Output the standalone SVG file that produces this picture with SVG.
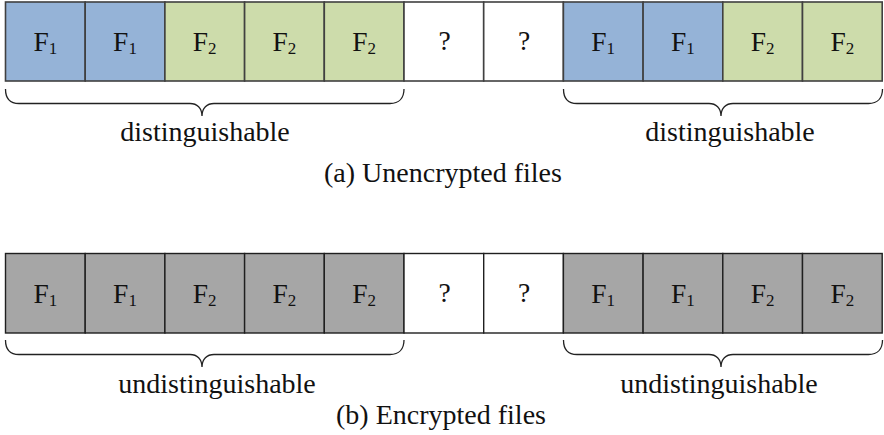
<svg xmlns="http://www.w3.org/2000/svg" width="884" height="435" viewBox="0 0 884 435" font-family="'Liberation Serif', serif">
<style>
text{font-family:'Liberation Serif',serif;fill:#111;}
.lbl{font-size:28px;}
.cell text{font-size:27.5px;text-anchor:middle;}
.sub{font-size:17px;}
.blue{fill:#95B3D7;}
.green{fill:#CDDCAB;}
.white{fill:#FFFFFF;}
.gray{fill:#A6A6A6;}
.r1 rect{stroke:#404040;stroke-width:1.6;}
.r2 rect{stroke:#1f1f1f;stroke-width:1.4;}
.brace{fill:none;stroke:#222;stroke-width:1.3;}
</style>
<defs>
<path id="braceL" d="M5.5,89 C5.5,98 10,103.5 19,103.5 L190,103.5 C197,103.5 202,108 202,116 C202,108 207,103.5 214,103.5 L390,103.5 C399,103.5 404,98 404,89"/>
<path id="braceR" d="M563.5,89 C563.5,98 568,103.5 577,103.5 L709,103.5 C716,103.5 721,108 721,116 C721,108 726,103.5 733,103.5 L868.5,103.5 C877.5,103.5 882.5,98 882.5,89"/>
</defs>
<g id="row-a" class="r1">
<g id="a1" class="cell"><rect class="blue" x="5.5" y="2" width="79.7" height="79"/><text x="45.3" y="50.5">F<tspan class="sub" dy="3">1</tspan></text></g>
<g id="a2" class="cell"><rect class="blue" x="85.2" y="2" width="79.7" height="79"/><text x="125" y="50.5">F<tspan class="sub" dy="3">1</tspan></text></g>
<g id="a3" class="cell"><rect class="green" x="164.9" y="2" width="79.7" height="79"/><text x="204.7" y="50.5">F<tspan class="sub" dy="3">2</tspan></text></g>
<g id="a4" class="cell"><rect class="green" x="244.6" y="2" width="79.7" height="79"/><text x="284.4" y="50.5">F<tspan class="sub" dy="3">2</tspan></text></g>
<g id="a5" class="cell"><rect class="green" x="324.3" y="2" width="79.7" height="79"/><text x="364.1" y="50.5">F<tspan class="sub" dy="3">2</tspan></text></g>
<g id="a6" class="cell"><rect class="white" x="404" y="2" width="79.7" height="79"/><text x="444.5" y="49.5">?</text></g>
<g id="a7" class="cell"><rect class="white" x="483.7" y="2" width="79.7" height="79"/><text x="524.2" y="49.5">?</text></g>
<g id="a8" class="cell"><rect class="blue" x="563.4" y="2" width="79.7" height="79"/><text x="603.2" y="50.5">F<tspan class="sub" dy="3">1</tspan></text></g>
<g id="a9" class="cell"><rect class="blue" x="643.1" y="2" width="79.7" height="79"/><text x="682.9" y="50.5">F<tspan class="sub" dy="3">1</tspan></text></g>
<g id="a10" class="cell"><rect class="green" x="722.8" y="2" width="79.7" height="79"/><text x="762.6" y="50.5">F<tspan class="sub" dy="3">2</tspan></text></g>
<g id="a11" class="cell"><rect class="green" x="802.5" y="2" width="79.7" height="79"/><text x="842.3" y="50.5">F<tspan class="sub" dy="3">2</tspan></text></g>
</g>
<g id="row-b" class="r2">
<g id="b1" class="cell"><rect class="gray" x="5.5" y="253.5" width="79.7" height="79.5"/><text x="45.3" y="303">F<tspan class="sub" dy="3">1</tspan></text></g>
<g id="b2" class="cell"><rect class="gray" x="85.2" y="253.5" width="79.7" height="79.5"/><text x="125" y="303">F<tspan class="sub" dy="3">1</tspan></text></g>
<g id="b3" class="cell"><rect class="gray" x="164.9" y="253.5" width="79.7" height="79.5"/><text x="204.7" y="303">F<tspan class="sub" dy="3">2</tspan></text></g>
<g id="b4" class="cell"><rect class="gray" x="244.6" y="253.5" width="79.7" height="79.5"/><text x="284.4" y="303">F<tspan class="sub" dy="3">2</tspan></text></g>
<g id="b5" class="cell"><rect class="gray" x="324.3" y="253.5" width="79.7" height="79.5"/><text x="364.1" y="303">F<tspan class="sub" dy="3">2</tspan></text></g>
<g id="b6" class="cell"><rect class="white" x="404" y="253.5" width="79.7" height="79.5"/><text x="444.5" y="302">?</text></g>
<g id="b7" class="cell"><rect class="white" x="483.7" y="253.5" width="79.7" height="79.5"/><text x="524.2" y="302">?</text></g>
<g id="b8" class="cell"><rect class="gray" x="563.4" y="253.5" width="79.7" height="79.5"/><text x="603.2" y="303">F<tspan class="sub" dy="3">1</tspan></text></g>
<g id="b9" class="cell"><rect class="gray" x="643.1" y="253.5" width="79.7" height="79.5"/><text x="682.9" y="303">F<tspan class="sub" dy="3">1</tspan></text></g>
<g id="b10" class="cell"><rect class="gray" x="722.8" y="253.5" width="79.7" height="79.5"/><text x="762.6" y="303">F<tspan class="sub" dy="3">2</tspan></text></g>
<g id="b11" class="cell"><rect class="gray" x="802.5" y="253.5" width="79.7" height="79.5"/><text x="842.3" y="303">F<tspan class="sub" dy="3">2</tspan></text></g>
</g>
<g id="connectors">
<use href="#braceL" class="brace"/>
<use href="#braceR" class="brace"/>
<use href="#braceL" class="brace" transform="translate(0,251)"/>
<use href="#braceR" class="brace" transform="translate(0,251)"/>
</g>
<g id="labels">
<text class="lbl" x="205" y="141" text-anchor="middle">distinguishable</text>
<text class="lbl" x="730" y="141" text-anchor="middle">distinguishable</text>
<text class="lbl" x="443" y="182" text-anchor="middle">(a) Unencrypted files</text>
<text class="lbl" x="217" y="393" text-anchor="middle">undistinguishable</text>
<text class="lbl" x="719" y="393" text-anchor="middle">undistinguishable</text>
<text class="lbl" x="441" y="424" text-anchor="middle">(b) Encrypted files</text>
</g>
</svg>
